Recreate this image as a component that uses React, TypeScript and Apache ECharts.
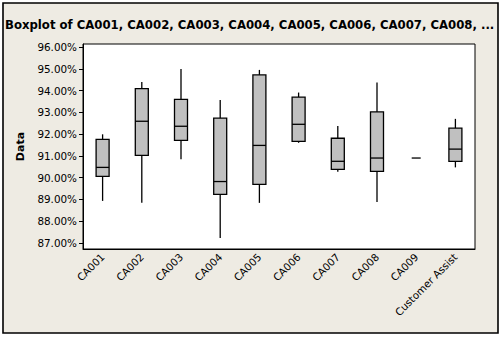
import React, { useEffect, useRef } from "react";
import * as echarts from "echarts";

const categories = ["CA001", "CA002", "CA003", "CA004", "CA005", "CA006", "CA007", "CA008", "CA009", "Customer Assist"];
const lows = [88.93, 88.84, 90.84, 87.23, 88.84, 91.6, 90.27, 88.88, 90.9, 90.47];
const q1s = [90.06, 91.02, 91.71, 89.23, 89.69, 91.67, 90.38, 90.29, 90.9, 90.75];
const medians = [90.47, 92.59, 92.36, 89.82, 91.48, 92.45, 90.75, 90.9, 90.9, 91.31];
const q3s = [91.76, 94.09, 93.6, 92.73, 94.72, 93.7, 91.81, 93.02, 90.9, 92.27];
const highs = [91.99, 94.39, 94.99, 93.57, 94.95, 93.91, 92.37, 94.37, 90.9, 92.7];
const yTicks = [87, 88, 89, 90, 91, 92, 93, 94, 95, 96];
const title = "Boxplot of CA001, CA002, CA003, CA004, CA005, CA006, CA007, CA008, ...";

export default function App() {
  const ref = useRef<HTMLDivElement>(null);
  useEffect(() => {
    const chart = echarts.init(ref.current!, null, { renderer: "svg" });
    const data = categories.map((_, i) => [i, lows[i], q1s[i], medians[i], q3s[i], highs[i]]);
    const font = "DejaVu Sans";
    chart.setOption({
      animation: false,
      backgroundColor: "#ffffff",
      title: {
        text: title,
        left: 5,
        top: 19,
        padding: 0,
        textStyle: { fontFamily: font, fontWeight: "bold", fontSize: 11.7, color: "#000" },
      },
      graphic: [
        {
          type: "rect",
          z: -10,
          shape: { x: 3, y: 3, width: 495, height: 330 },
          style: { fill: "#EEEBE3", stroke: "#000", lineWidth: 1.6 },
        },
      ],
      grid: {
        left: 83,
        top: 44,
        right: 28,
        bottom: 88,
        show: true,
        backgroundColor: "#ffffff",
        borderColor: "#000",
        borderWidth: 1,
      },
      xAxis: {
        type: "category",
        data: categories,
        boundaryGap: true,
        axisLine: { lineStyle: { color: "#000", width: 1 } },
        axisTick: { alignWithLabel: true, length: 4, lineStyle: { color: "#000" } },
        axisLabel: { rotate: 45, interval: 0, fontFamily: font, fontSize: 10.3, color: "#000", margin: 6 },
      },
      yAxis: {
        type: "value",
        min: 86.72,
        max: 96.14,
        name: "Data",
        nameLocation: "middle",
        nameGap: 55,
        nameTextStyle: { fontFamily: font, fontWeight: "bold", fontSize: 11, color: "#000" },
        splitLine: { show: false },
        axisLine: { show: true, lineStyle: { color: "#000", width: 1 } },
        axisTick: { show: true, length: 4, customValues: yTicks, lineStyle: { color: "#000" } },
        axisLabel: {
          customValues: yTicks,
          fontFamily: font,
          fontSize: 10.4,
          color: "#000",
          margin: 6,
          formatter: (v: number) => v.toFixed(2) + "%",
        },
      },
      series: [
        {
          type: "custom",
          data,
          encode: { x: 0, y: [1, 2, 3, 4, 5] },
          renderItem: (params: any, api: any) => {
            const idx = api.value(0);
            const pLow = api.coord([idx, api.value(1)]);
            const pQ1 = api.coord([idx, api.value(2)]);
            const pMed = api.coord([idx, api.value(3)]);
            const pQ3 = api.coord([idx, api.value(4)]);
            const pHigh = api.coord([idx, api.value(5)]);
            const x = pLow[0];
            const ls = { stroke: "#000", lineWidth: 1.3 };
            if (Math.abs(pQ1[1] - pQ3[1]) < 0.5) {
              return {
                type: "line",
                shape: { x1: x - 4.5, y1: pMed[1], x2: x + 4.5, y2: pMed[1] },
                style: ls,
              };
            }
            const hw = 6.5;
            return {
              type: "group",
              children: [
                { type: "line", shape: { x1: x, y1: pLow[1], x2: x, y2: pQ1[1] }, style: ls },
                { type: "line", shape: { x1: x, y1: pQ3[1], x2: x, y2: pHigh[1] }, style: ls },
                {
                  type: "rect",
                  shape: { x: x - hw, y: pQ3[1], width: hw * 2, height: pQ1[1] - pQ3[1] },
                  style: { fill: "#C0C0C0", stroke: "#000", lineWidth: 1.3 },
                },
                { type: "line", shape: { x1: x - hw, y1: pMed[1], x2: x + hw, y2: pMed[1] }, style: ls },
              ],
            };
          },
        },
      ],
    });
    return () => chart.dispose();
  }, []);
  return <div ref={ref} style={{ position: "fixed", left: 0, top: 0, width: 503, height: 337 }} />;
}
